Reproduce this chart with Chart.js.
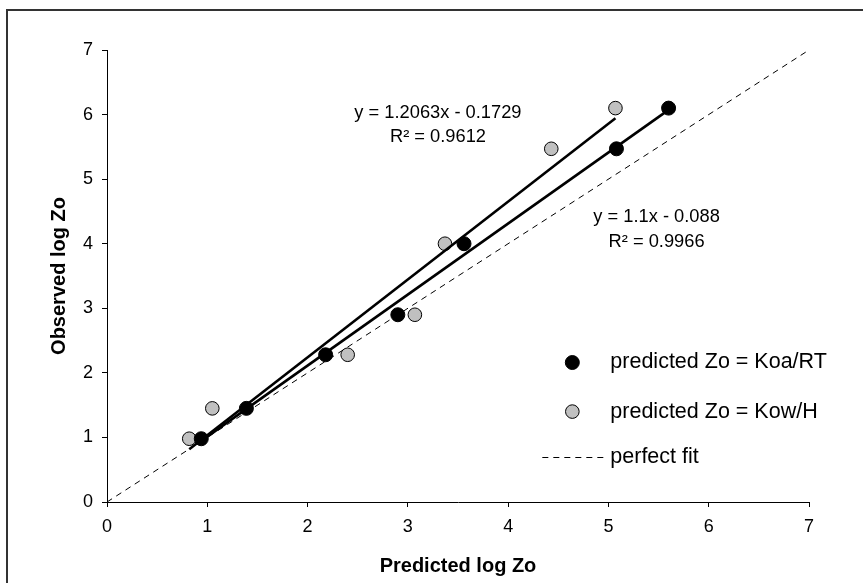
<!DOCTYPE html>
<html>
<head>
<meta charset="utf-8">
<script src="https://cdn.jsdelivr.net/npm/chart.js@4.4.0/dist/chart.umd.min.js"></script>
<style>
  html, body { margin: 0; padding: 0; background: #fff; }
  #zo-chart { display: block; }
</style>
</head>
<body>
<canvas id="zo-chart" width="863" height="583"></canvas>
<script>
// log Zo values
const axisTicks = [0, 1, 2, 3, 4, 5, 6, 7];
const observedLogZo = [0.98, 1.45, 2.28, 2.90, 4.00, 5.47, 6.10];
const predictedKoaRT = [0.94, 1.39, 2.18, 2.90, 3.56, 5.08, 5.60];
const predictedKowH = [0.82, 1.05, 2.40, 3.07, 3.37, 4.43, 5.07];
const seriesLabels = ['predicted Zo = Koa/RT', 'predicted Zo = Kow/H', 'perfect fit'];

// linear fits: [Koa/RT, Kow/H]
const fitSlopes = [1.1, 1.2063];
const fitIntercepts = [-0.088, -0.1729];
const fitR2 = [0.9966, 0.9612];

Chart.defaults.font.family = '"Liberation Sans", Arial, sans-serif';
Chart.defaults.color = '#000';

function toPoints(xs, ys) {
    let out = [];
    xs.forEach(function(x, i) {
        out.push({x: x, y: ys[i]});
    });
    return out;
}

function trendLine(xs, slope, intercept) {
    let lo = Math.min(...xs);
    let hi = Math.max(...xs);
    return [
        {x: lo, y: slope * lo + intercept},
        {x: hi, y: slope * hi + intercept}
    ];
}

function equationText(i) {
    let sign = fitIntercepts[i] < 0 ? ' - ' : ' + ';
    return 'y = ' + fitSlopes[i] + 'x' + sign + Math.abs(fitIntercepts[i]);
}

// outer border of the figure
const framePlugin = {
    id: 'frame',
    beforeDraw(chart) {
        const ctx = chart.ctx;
        ctx.save();
        ctx.strokeStyle = '#333';
        ctx.lineWidth = 2;
        ctx.strokeRect(7, 10, chart.width, chart.height);
        ctx.restore();
    }
};

// regression equations placed in data coordinates
const equationPlugin = {
    id: 'equations',
    afterDatasetsDraw(chart, args, opts) {
        const ctx = chart.ctx;
        const sx = chart.scales.x, sy = chart.scales.y;
        ctx.save();
        ctx.font = opts.size + 'px ' + Chart.defaults.font.family;
        ctx.fillStyle = '#000';
        ctx.textAlign = 'center';
        ctx.textBaseline = 'middle';
        opts.items.forEach(function(item) {
            let px = sx.getPixelForValue(item.x);
            ctx.fillText(equationText(item.fit), px, sy.getPixelForValue(item.y));
            ctx.fillText('R\u00b2 = ' + fitR2[item.fit], px, sy.getPixelForValue(item.y2));
        });
        ctx.restore();
    }
};

// legend drawn inside the plot area
const innerLegendPlugin = {
    id: 'innerLegend',
    afterDraw(chart, args, opts) {
        const ctx = chart.ctx;
        const sx = chart.scales.x, sy = chart.scales.y;
        const mx = sx.getPixelForValue(opts.x);
        ctx.save();
        ctx.font = opts.size + 'px ' + Chart.defaults.font.family;
        ctx.textBaseline = 'middle';
        ctx.textAlign = 'left';
        opts.rows.forEach(function(rowY, i) {
            const ds = chart.data.datasets[i];
            const py = sy.getPixelForValue(rowY);
            if (ds.type === 'line') {
                ctx.strokeStyle = ds.borderColor;
                ctx.lineWidth = ds.borderWidth;
                ctx.setLineDash(ds.borderDash);
                ctx.beginPath();
                ctx.moveTo(mx - 30, Math.round(py) + 0.5);
                ctx.lineTo(mx + 33, Math.round(py) + 0.5);
                ctx.stroke();
                ctx.setLineDash([]);
            } else {
                ctx.fillStyle = ds.backgroundColor;
                ctx.strokeStyle = ds.borderColor;
                ctx.lineWidth = ds.borderWidth;
                ctx.beginPath();
                ctx.arc(mx, py, ds.pointRadius, 0, Math.PI * 2);
                ctx.fill();
                ctx.stroke();
            }
            ctx.fillStyle = '#000';
            ctx.fillText(ds.label, mx + opts.gap, py);
        });
        ctx.restore();
    }
};

function axis(title, fit, titlePadding) {
    return {
        type: 'linear',
        min: axisTicks[0],
        max: axisTicks[axisTicks.length - 1],
        afterBuildTicks: function(scale) {
            scale.ticks = axisTicks.map(function(v) { return {value: v}; });
        },
        afterFit: fit,
        grid: {
            drawOnChartArea: false,
            drawTicks: true,
            tickLength: 5,
            color: '#000',
            lineWidth: 1
        },
        border: { display: true, color: '#000', width: 1 },
        ticks: { font: { size: 18 }, padding: 9, color: '#000' },
        title: {
            display: true,
            text: title,
            color: '#000',
            font: { size: 20, weight: 'bold' },
            padding: titlePadding
        }
    };
}

new Chart(document.getElementById('zo-chart'), {
    type: 'scatter',
    data: {
        datasets: [
            {
                label: seriesLabels[0],
                data: toPoints(predictedKoaRT, observedLogZo),
                backgroundColor: '#000',
                borderColor: '#000',
                borderWidth: 1,
                pointRadius: 7,
                order: 3
            },
            {
                label: seriesLabels[1],
                data: toPoints(predictedKowH, observedLogZo),
                backgroundColor: '#c0c0c0',
                borderColor: '#000',
                borderWidth: 1,
                pointRadius: 6.8,
                order: 4
            },
            {
                type: 'line',
                label: seriesLabels[2],
                data: [{x: axisTicks[0], y: axisTicks[0]}, {x: axisTicks[7], y: axisTicks[7]}],
                borderColor: '#000',
                borderWidth: 1,
                borderDash: [6, 5],
                pointRadius: 0,
                fill: false,
                order: 5
            },
            {
                type: 'line',
                label: 'fit Koa/RT',
                data: trendLine(predictedKoaRT, fitSlopes[0], fitIntercepts[0]),
                borderColor: '#000',
                borderWidth: 2.6,
                pointRadius: 0,
                fill: false,
                order: 1
            },
            {
                type: 'line',
                label: 'fit Kow/H',
                data: trendLine(predictedKowH, fitSlopes[1], fitIntercepts[1]),
                borderColor: '#000',
                borderWidth: 2.6,
                pointRadius: 0,
                fill: false,
                order: 2
            }
        ]
    },
    options: {
        responsive: false,
        animation: false,
        events: [],
        layout: { padding: { left: 0, top: 50, right: 54, bottom: 0 } },
        scales: {
            x: axis('Predicted log Zo', function(s) { s.height = 81; }, { top: 0, bottom: 5 }),
            y: axis('Observed log Zo', function(s) { s.width = 107; }, { top: 47, bottom: 0 })
        },
        plugins: {
            legend: { display: false },
            tooltip: { enabled: false },
            equations: {
                size: 18.3,
                items: [
                    { fit: 1, x: 3.30, y: 6.03, y2: 5.66 },
                    { fit: 0, x: 5.48, y: 4.41, y2: 4.02 }
                ]
            },
            innerLegend: {
                size: 21.5,
                x: 4.64,
                gap: 38,
                rows: [2.16, 1.40, 0.70]
            }
        }
    },
    plugins: [framePlugin, equationPlugin, innerLegendPlugin]
});
</script>
</body>
</html>
